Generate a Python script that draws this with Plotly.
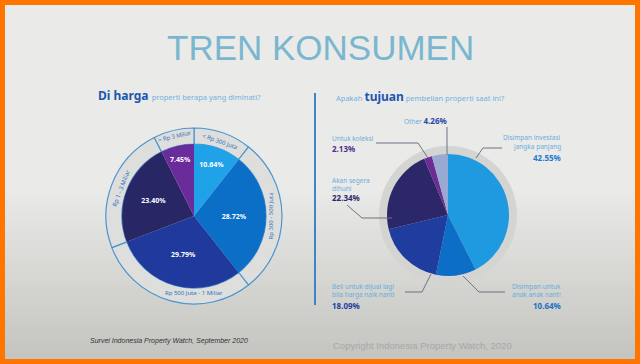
import plotly.graph_objects as go

W, H = 640, 364

# ---------------- data ----------------
price_labels = ["< Rp 300 Juta", "Rp 300 - 500 Juta", "Rp 500 Juta - 1 Miliar",
                "Rp 1 - 3 Miliar", "> Rp 3 Miliar"]
price_values = [10.64, 28.72, 29.79, 23.40, 7.45]
price_colors = ["#1fa2e8", "#0c6fc7", "#1f3a9c", "#282664", "#6a2b9b"]

purpose_labels = ["Disimpan investasi jangka panjang", "Disimpan untuk anak anak nanti",
                  "Beli untuk dijual lagi bila harga naik nanti", "Akan segera dihuni",
                  "Untuk koleksi", "Other"]
purpose_values = [42.55, 10.64, 18.09, 22.34, 2.13, 4.26]
purpose_colors = ["#1f9ae0", "#0c6ec6", "#1f3c9f", "#2b2768", "#6b2c96", "#9aa9d2"]


def px(x):
    return x / W


def py(y):
    return 1 - y / H


def dom(cx, cy, r):
    return dict(x=[px(cx - r), px(cx + r)], y=[py(cy + r), py(cy - r)])


fig = go.Figure()

# left ring with range labels
L_CX, L_CY, L_R, L_RO = 194, 216, 72, 88
fig.add_trace(go.Pie(
    values=price_values, labels=price_labels, text=price_labels,
    sort=False, direction="clockwise", rotation=0,
    hole=L_R / L_RO, domain=dom(L_CX, L_CY, L_RO),
    marker=dict(colors=["#dededc"] * 5, line=dict(color="#4a94d0", width=1.2)),
    textinfo="text", textposition="inside", insidetextorientation="tangential",
    textfont=dict(family="Noto Sans", size=6, color="#2f74bf"),
    hoverinfo="skip", showlegend=False,
))
# left pie
fig.add_trace(go.Pie(
    values=price_values, labels=price_labels,
    sort=False, direction="clockwise", rotation=0,
    domain=dom(L_CX, L_CY, L_R),
    marker=dict(colors=price_colors, line=dict(width=0)),
    texttemplate="<b>%{value:.2f}%</b>", textposition="inside",
    insidetextorientation="horizontal",
    textfont=dict(family="Noto Sans", size=7, color="white"),
    hoverinfo="skip", showlegend=False,
))

# right pie
R_CX, R_CY, R_R, R_RO = 448, 215, 61, 69
fig.add_trace(go.Pie(
    values=purpose_values, labels=purpose_labels,
    sort=False, direction="clockwise", rotation=0,
    domain=dom(R_CX, R_CY, R_R),
    marker=dict(colors=purpose_colors, line=dict(width=0)),
    textinfo="none", hoverinfo="skip", showlegend=False,
))

shapes = []
# orange frame + gray background with soft gradient to the bottom
shapes.append(dict(type="rect", xref="paper", yref="paper", x0=0, x1=1, y0=0, y1=1,
                   fillcolor="#ff7500", line=dict(width=0), layer="below"))
shapes.append(dict(type="rect", xref="paper", yref="paper", x0=px(5), x1=px(635),
                   y0=py(359), y1=py(5), fillcolor="#eaeae8", line=dict(width=0), layer="below"))
top_c = (234, 234, 232)
bot_c = (196, 196, 192)
n = 32
y_start, y_end = 190, 359
for i in range(n):
    t = (i + 1) / n
    c = tuple(int(round(top_c[k] + (bot_c[k] - top_c[k]) * t)) for k in range(3))
    y0 = y_start + (y_end - y_start) * i / n
    shapes.append(dict(type="rect", xref="paper", yref="paper", x0=px(5), x1=px(635),
                       y0=py(y_end), y1=py(y0), fillcolor="rgb(%d,%d,%d)" % c,
                       line=dict(width=0), layer="below"))
# gray ring behind right pie
shapes.append(dict(type="circle", xref="paper", yref="paper",
                   x0=px(R_CX - R_RO), x1=px(R_CX + R_RO), y0=py(R_CY + R_RO), y1=py(R_CY - R_RO),
                   fillcolor="#d4d4d2", line=dict(width=0), layer="below"))
# divider
shapes.append(dict(type="line", xref="paper", yref="paper", x0=px(315), x1=px(315),
                   y0=py(305), y1=py(93), line=dict(color="#3d85c6", width=2)))

# leader lines for the right pie
leaders = [
    [(447, 127), (447, 155)],
    [(376, 143), (418, 143), (428, 158)],
    [(347, 205), (362, 218), (392, 218)],
    [(405, 292), (422, 292), (431, 274)],
    [(476, 158), (483, 148), (502, 148)],
    [(463, 276), (479, 292), (505, 292)],
]
for pts in leaders:
    path = "M " + " L ".join("%f,%f" % (px(x), py(y)) for x, y in pts)
    shapes.append(dict(type="path", xref="paper", yref="paper", path=path,
                       line=dict(color="#6b7482", width=1)))

ann = []


def text(x, y, s, size, color, family="Noto Sans", xanchor="left", bold=False, italic=False):
    if bold:
        s = "<b>" + s + "</b>"
    if italic:
        s = "<i>" + s + "</i>"
    ann.append(dict(x=px(x), y=py(y), xref="paper", yref="paper", text=s, showarrow=False,
                    xanchor=xanchor, yanchor="middle",
                    font=dict(family=family, size=size, color=color)))


text(320, 48, "TREN KONSUMEN", 35, "#7ab7cf", family="Liberation Sans", xanchor="center")

ann.append(dict(x=px(96), y=py(96), xref="paper", yref="paper", showarrow=False,
                xanchor="left", yanchor="middle",
                text="<b>Di harga</b> <span style='font-size:7.5px;color:#74b1e0'>properti berapa yang diminati?</span>",
                font=dict(family="Noto Sans", size=12, color="#1d56b0")))
ann.append(dict(x=px(334), y=py(97), xref="paper", yref="paper", showarrow=False,
                xanchor="left", yanchor="middle",
                text="<span style='font-size:7.5px;color:#74b1e0'>Apakah </span><b>tujuan</b>"
                     "<span style='font-size:7.5px;color:#74b1e0'> pembelian properti saat ini?</span>",
                font=dict(family="Noto Sans", size=12, color="#1d56b0")))

lc = "#6aaedd"
# Other
ann.append(dict(x=px(402), y=py(121), xref="paper", yref="paper", showarrow=False,
                xanchor="left", yanchor="middle",
                text="<span style='font-size:6.5px;color:%s'>Other </span><b>4.26%%</b>" % lc,
                font=dict(family="Noto Sans", size=8, color="#2a48a8")))
text(330, 138, "Untuk koleksi", 6.5, lc)
text(330, 148, "2.13%", 8, "#55308e", bold=True)
text(330, 180, "Akan segera", 6.5, lc)
text(330, 188, "dihuni", 6.5, lc)
text(330, 198, "22.34%", 8, "#2b2a6a", bold=True)
text(330, 286, "Beli untuk dijual lagi", 6.5, lc)
text(330, 294, "bila harga naik nanti", 6.5, lc)
text(330, 305, "18.09%", 8, "#23409f", bold=True)
text(563, 137, "Disimpan investasi", 6.5, lc, xanchor="right")
text(563, 146, "jangka panjang", 6.5, lc, xanchor="right")
text(563, 157, "42.55%", 8, "#1b7ccd", xanchor="right", bold=True)
text(563, 286, "Disimpan untuk", 6.5, lc, xanchor="right")
text(563, 294, "anak anak nanti", 6.5, lc, xanchor="right")
text(563, 305, "10.64%", 8, "#1b6fc6", xanchor="right", bold=True)

text(88, 341, "Survei Indonesia Property Watch, September 2020", 7, "#333333",
     family="Liberation Sans", italic=True)
text(331, 345, "Copyright Indonesia Property Watch, 2020", 9.5, "#a8a8a6",
     family="Liberation Sans")

fig.update_layout(
    width=W, height=H, margin=dict(l=0, r=0, t=0, b=0),
    paper_bgcolor="#ff7500", plot_bgcolor="rgba(0,0,0,0)",
    shapes=shapes, annotations=ann, showlegend=False,
)

fig.write_html("out.html", config={"displayModeBar": False},
               post_script="document.body.style.margin='0';")
